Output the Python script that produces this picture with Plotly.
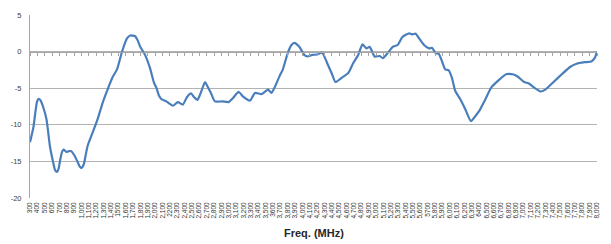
import plotly.graph_objects as go

# ---- data ----
freq_mhz = [300, 347, 374, 394, 414, 440, 480, 525, 570, 614, 641, 668, 688, 712, 735, 757, 793, 828,
            860, 904, 948, 975, 1002, 1022, 1038, 1055, 1082, 1149, 1216, 1283, 1349, 1416, 1483,
            1550, 1617, 1661, 1728, 1764, 1795, 1862, 1928, 1982, 2018, 2051, 2085, 2152, 2192, 2241,
            2308, 2375, 2433, 2486, 2526, 2575, 2620, 2677, 2713, 2754, 2811, 2910, 2998, 3061, 3132,
            3199, 3288, 3355, 3445, 3533, 3578, 3622, 3689, 3733, 3800, 3850, 3890, 3957, 4024, 4068,
            4135, 4198, 4268, 4335, 4398, 4448, 4536, 4624, 4690, 4757, 4815, 4868, 4913, 4980, 5047,
            5092, 5158, 5225, 5292, 5358, 5450, 5494, 5538, 5584, 5651, 5718, 5762, 5806, 5852, 5896,
            5940, 5985, 6029, 6074, 6140, 6208, 6288, 6341, 6408, 6475, 6565, 6654, 6765, 6855, 6921,
            7010, 7076, 7143, 7232, 7299, 7410, 7522, 7633, 7723, 7834, 7923, 7968, 8000]
gain_db = [-12.4, -10.3, -8.2, -6.9, -6.45, -6.6, -7.6, -9.3, -12.9, -15.1, -16.2, -16.45, -16.0, -14.7,
           -13.7, -13.4, -13.7, -13.6, -13.6, -14.2, -15.1, -15.7, -15.9, -15.6, -15.1, -14.2, -12.9,
           -11.1, -9.3, -7.1, -5.3, -3.6, -2.4, 0.0, 1.8, 2.2, 2.1, 1.5, 0.7, -0.45, -2.2, -4.2, -5.0,
           -6.0, -6.5, -6.8, -7.1, -7.4, -6.9, -7.25, -6.2, -5.7, -6.2, -6.6, -5.6, -4.15, -4.8, -5.6,
           -6.8, -6.8, -6.9, -6.3, -5.5, -6.2, -6.7, -5.65, -5.8, -5.2, -5.65, -4.9, -3.35, -2.45,
           -0.2, 0.9, 1.2, 0.65, -0.45, -0.67, -0.45, -0.4, -0.15, -1.55, -3.0, -4.15, -3.55, -2.9,
           -1.55, -0.45, 1.0, 0.45, 0.65, -0.67, -0.6, -0.9, -0.2, 0.65, 0.9, 2.0, 2.5, 2.35, 2.45,
           1.8, 0.9, 0.45, 0.5, -0.2, -0.3, -1.35, -2.45, -2.55, -3.55, -5.35, -6.45, -7.8, -9.5,
           -8.9, -8.0, -6.7, -4.9, -4.0, -3.1, -3.1, -3.4, -4.15, -4.35, -4.9, -5.45, -5.2, -4.15,
           -3.1, -2.1, -1.65, -1.45, -1.35, -0.9, 0.0]

tick_freqs = list(range(300, 8001, 100))
plain_labels = [1500, 2200, 3600, 5700, 6400]
tick_labels = [str(v) if (v < 1000 or v in plain_labels) else f"{v:,}" for v in tick_freqs]

y_ticks = [5, 0, -5, -10, -15, -20]
x_title = "Freq. (MHz)"

fig = go.Figure()
fig.add_trace(go.Scatter(x=freq_mhz, y=gain_db, mode="lines",
                         line=dict(color="#4a7ebb", width=2.2, shape="spline", smoothing=0.5),
                         xaxis="x", yaxis="y", showlegend=False, hoverinfo="skip"))
fig.add_trace(go.Scatter(x=[], y=[], xaxis="x2", yaxis="y", showlegend=False))

fig.update_layout(
    width=611, height=244,
    margin=dict(l=21, r=13, t=11, b=46, pad=0),
    paper_bgcolor="white", plot_bgcolor="white",
    font=dict(family="Liberation Sans, Arial, sans-serif", color="#404040"),
    xaxis=dict(range=[300, 8000], tickvals=tick_freqs, ticktext=tick_labels,
               tickangle=-90, tickfont=dict(size=6.5, color="#333333"),
               showgrid=False, zeroline=False, showline=False, ticks="",
               ticklabelstandoff=2, fixedrange=True),
    xaxis2=dict(range=[300, 8000], overlaying="x", anchor="free", position=0.8,
                tickvals=tick_freqs, showticklabels=False, ticks="outside", ticklen=3,
                tickcolor="#a6a6a6", tickwidth=1, showline=True, linecolor="#a6a6a6",
                linewidth=1, showgrid=False, zeroline=False),
    yaxis=dict(range=[-20, 5], tickvals=y_ticks, ticktext=[str(v) for v in y_ticks],
               tickfont=dict(size=7.5, color="#404040"), showgrid=True,
               gridcolor="#b3b3b3", gridwidth=1, zeroline=False, showline=True,
               linecolor="#a6a6a6", linewidth=1, ticks="", ticklabelstandoff=6),
    annotations=[dict(text=f"<b>{x_title}</b>", x=0.5, y=-0.19, xref="paper", yref="paper",
                      xanchor="center", yanchor="middle", showarrow=False,
                      font=dict(size=11, color="#262626",
                                family="Liberation Sans, Arial, sans-serif"))],
)

fig.write_html("out.html")
